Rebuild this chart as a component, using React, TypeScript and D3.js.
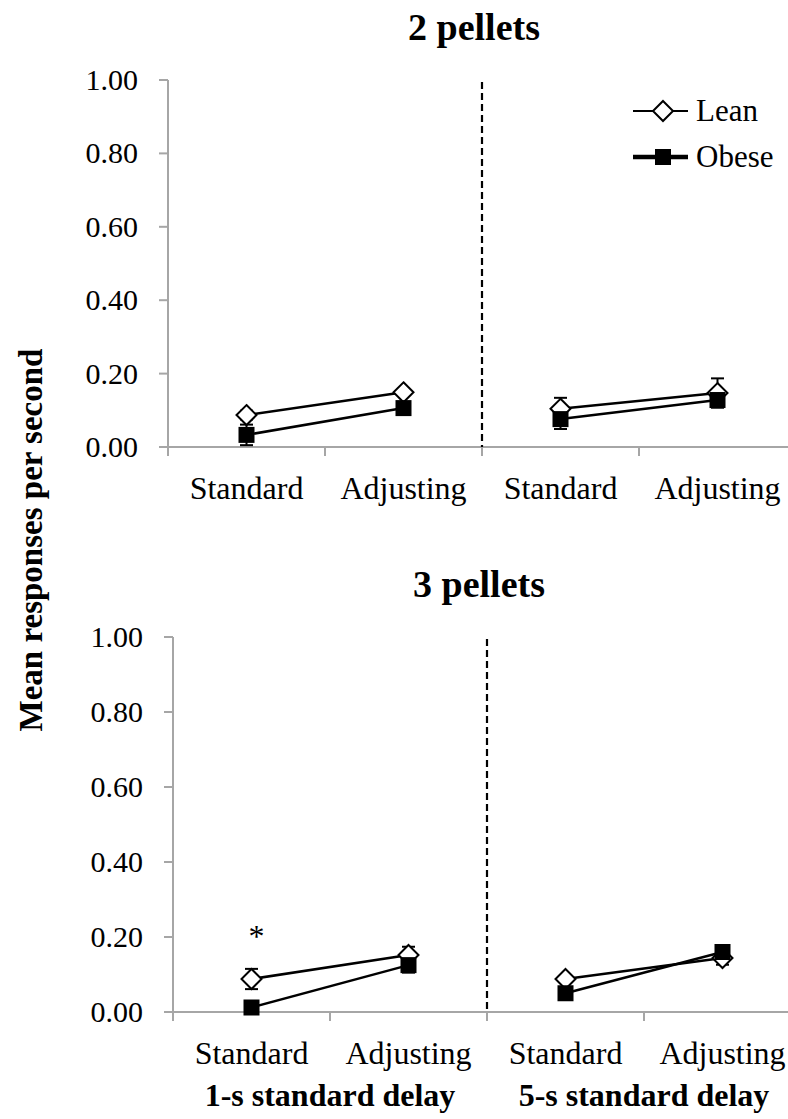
import React from "react";
import * as d3 from "d3";

const categories = ["Standard", "Adjusting", "Standard", "Adjusting"];
const panelTitles = ["2 pellets", "3 pellets"];
const groupLabels = ["1-s standard delay", "5-s standard delay"];
const yTicks = [0, 0.2, 0.4, 0.6, 0.8, 1.0];
const seriesNames = ["Lean", "Obese"];

// 2 pellets
const lean2 = [0.087, 0.149, 0.104, 0.147];
const lean2Err = [0.012, 0.01, 0.03, 0.04];
const obese2 = [0.033, 0.106, 0.076, 0.128];
const obese2Err = [0.028, 0.012, 0.027, 0.015];

// 3 pellets
const lean3 = [0.088, 0.152, 0.088, 0.144];
const lean3Err = [0.027, 0.022, 0.01, 0.018];
const obese3 = [0.012, 0.125, 0.05, 0.16];
const obese3Err = [0.005, 0.02, 0.01, 0.018];

const sigMarks = [[], [0]]; // category indices with asterisk, per panel

const FONT = "Liberation Serif, DejaVu Serif, serif";
const AXIS = "#a6a6a6";

type PanelProps = {
  x0: number;
  yTop: number;
  yBase: number;
  title: string;
  lean: number[];
  leanErr: number[];
  obese: number[];
  obeseErr: number[];
  sig: number[];
  showLegend: boolean;
  showGroups: boolean;
};

function Panel(p: PanelProps) {
  const bw = 157;
  const x = d3
    .scaleBand<number>()
    .domain(d3.range(categories.length))
    .range([p.x0, p.x0 + bw * categories.length])
    .padding(0);
  const y = d3.scaleLinear().domain([0, 1]).range([p.yBase, p.yTop]);
  const cx = (i: number) => (x(i) as number) + x.bandwidth() / 2;
  const fmt = d3.format(".2f");
  const line = d3
    .line<[number, number]>()
    .x((d) => cx(d[0]))
    .y((d) => y(d[1]));
  const segs = [
    [0, 1],
    [2, 3],
  ];
  const xEnd = 788;
  const midX = x(2) as number;

  const diamond = (px: number, py: number, key: string) => {
    const r = 10;
    return (
      <path
        key={key}
        d={`M${px},${py - r}L${px + r},${py}L${px},${py + r}L${px - r},${py}Z`}
        fill="#fff"
        stroke="#000"
        strokeWidth={2}
      />
    );
  };
  const square = (px: number, py: number, key: string) => {
    const s = 16;
    return (
      <rect key={key} x={px - s / 2} y={py - s / 2} width={s} height={s} fill="#000" />
    );
  };

  const errBars = (vals: number[], errs: number[], k: string) =>
    vals.map((v, i) => {
      const px = cx(i);
      const hi = y(v + errs[i]);
      const lo = y(Math.max(0, v - errs[i]));
      return (
        <g key={k + i} stroke="#000" strokeWidth={2}>
          <line x1={px} x2={px} y1={hi} y2={lo} />
          <line x1={px - 6.5} x2={px + 6.5} y1={hi} y2={hi} />
          <line x1={px - 6.5} x2={px + 6.5} y1={lo} y2={lo} />
        </g>
      );
    });

  return (
    <g>
      <text
        x={(p.x0 + p.x0 + bw * 4) / 2 - 8}
        y={p.yTop - 40}
        textAnchor="middle"
        fontFamily={FONT}
        fontWeight="bold"
        fontSize={38}
      >
        {p.title}
      </text>
      {/* y axis */}
      <line x1={p.x0} x2={p.x0} y1={p.yTop} y2={p.yBase + 9} stroke={AXIS} strokeWidth={2} />
      {yTicks.map((t) => (
        <g key={t}>
          <line x1={p.x0 - 9} x2={p.x0} y1={y(t)} y2={y(t)} stroke={AXIS} strokeWidth={2} />
          <text
            x={p.x0 - 30}
            y={y(t) + 10}
            textAnchor="end"
            fontFamily={FONT}
            fontSize={30}
          >
            {fmt(t)}
          </text>
        </g>
      ))}
      {/* x axis */}
      <line x1={p.x0} x2={xEnd} y1={p.yBase} y2={p.yBase} stroke={AXIS} strokeWidth={2} />
      {d3.range(1, categories.length).map((i) => (
        <line
          key={i}
          x1={x(i) as number}
          x2={x(i) as number}
          y1={p.yBase}
          y2={p.yBase + 9}
          stroke={AXIS}
          strokeWidth={2}
        />
      ))}
      {categories.map((c, i) => (
        <text
          key={i}
          x={cx(i)}
          y={p.yBase + 52}
          textAnchor="middle"
          fontFamily={FONT}
          fontSize={32}
        >
          {c}
        </text>
      ))}
      {p.showGroups &&
        groupLabels.map((g, gi) => (
          <text
            key={g}
            x={(cx(gi * 2) + cx(gi * 2 + 1)) / 2}
            y={p.yBase + 94}
            textAnchor="middle"
            fontFamily={FONT}
            fontWeight="bold"
            fontSize={32}
          >
            {g}
          </text>
        ))}
      {/* dashed separator */}
      <line
        x1={midX}
        x2={midX}
        y1={p.yTop + 2}
        y2={p.yBase}
        stroke="#000"
        strokeWidth={2.2}
        strokeDasharray="7,4"
      />
      {/* series */}
      {errBars(p.lean, p.leanErr, "le")}
      {errBars(p.obese, p.obeseErr, "oe")}
      {segs.map((s, si) => (
        <path
          key={"ll" + si}
          d={line(s.map((i) => [i, p.lean[i]] as [number, number])) || ""}
          fill="none"
          stroke="#000"
          strokeWidth={2.5}
        />
      ))}
      {segs.map((s, si) => (
        <path
          key={"ol" + si}
          d={line(s.map((i) => [i, p.obese[i]] as [number, number])) || ""}
          fill="none"
          stroke="#000"
          strokeWidth={2.5}
        />
      ))}
      {p.lean.map((v, i) => diamond(cx(i), y(v), "ld" + i))}
      {p.obese.map((v, i) => square(cx(i), y(v), "os" + i))}
      {p.sig.map((i) => (
        <text
          key={"s" + i}
          x={cx(i) + 5}
          y={y(p.lean[i] + p.leanErr[i]) - 22}
          textAnchor="middle"
          fontFamily={FONT}
          fontSize={32}
        >
          *
        </text>
      ))}
      {p.showLegend && (
        <g>
          <line x1={633} x2={688} y1={111} y2={111} stroke="#000" strokeWidth={2} />
          {diamond(663, 111, "legd")}
          <text x={696} y={121} fontFamily={FONT} fontSize={31}>
            {seriesNames[0]}
          </text>
          <line x1={633} x2={688} y1={157} y2={157} stroke="#000" strokeWidth={4.5} />
          {square(663, 157, "legs")}
          <text x={696} y={167} fontFamily={FONT} fontSize={31}>
            {seriesNames[1]}
          </text>
        </g>
      )}
    </g>
  );
}

export default function App() {
  return (
    <div style={{ position: "absolute", left: 0, top: 0 }}>
      <svg width={788} height={1119} viewBox="0 0 788 1119" style={{ display: "block", background: "#fff" }}>
        <rect width={788} height={1119} fill="#fff" />
        <Panel
          x0={168}
          yTop={80}
          yBase={447}
          title={panelTitles[0]}
          lean={lean2}
          leanErr={lean2Err}
          obese={obese2}
          obeseErr={obese2Err}
          sig={sigMarks[0]}
          showLegend={true}
          showGroups={false}
        />
        <Panel
          x0={173}
          yTop={637}
          yBase={1012}
          title={panelTitles[1]}
          lean={lean3}
          leanErr={lean3Err}
          obese={obese3}
          obeseErr={obese3Err}
          sig={sigMarks[1]}
          showLegend={false}
          showGroups={true}
        />
        <text
          transform={`translate(42,540) rotate(-90)`}
          textAnchor="middle"
          fontFamily={FONT}
          fontWeight="bold"
          fontSize={33}
        >
          Mean responses per second
        </text>
      </svg>
    </div>
  );
}
